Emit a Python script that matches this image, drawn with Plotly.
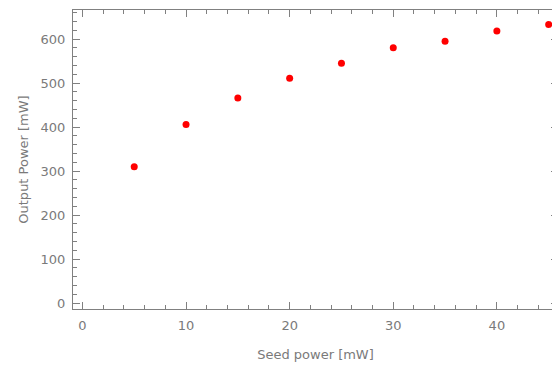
import plotly.graph_objects as go

seed_power = [5, 10, 15, 20, 25, 30, 35, 40, 45]
output_power = [310, 406, 466, 511, 545, 580, 595, 618, 633]

x_title = "Seed power [mW]"
y_title = "Output Power [mW]"

FONT = "DejaVu Sans, Verdana, sans-serif"
GRAY = "#7a7a7a"

fig = go.Figure()
fig.add_trace(go.Scatter(
    x=seed_power, y=output_power, mode="markers",
    marker=dict(color="#ff0000", size=7, symbol="circle"),
    cliponaxis=False, showlegend=False,
))

axis_common = dict(
    showgrid=False, zeroline=False,
    showline=True, linecolor="#808080", linewidth=1,
    mirror="ticks", ticks="inside", ticklen=7, tickcolor="#808080", tickwidth=1,
    tickfont=dict(family=FONT, size=13, color=GRAY),
)

fig.update_layout(
    width=558, height=365,
    margin=dict(l=73, r=0, t=10, b=56),
    paper_bgcolor="white", plot_bgcolor="white",
    font=dict(family=FONT, color=GRAY),
    xaxis=dict(
        range=[-0.91, 45.9], dtick=10, tick0=0,
        minor=dict(dtick=2, ticks="inside", ticklen=4, tickcolor="#808080"),
        title=dict(text=x_title, font=dict(size=13, color=GRAY), standoff=18),
        ticklabelstandoff=4,
        **axis_common,
    ),
    yaxis=dict(
        range=[-13.6, 666], dtick=100, tick0=0,
        minor=dict(dtick=20, ticks="inside", ticklen=4, tickcolor="#808080"),
        title=dict(text=y_title, font=dict(size=13, color=GRAY), standoff=9),
        ticklabelstandoff=4,
        **axis_common,
    ),
)

fig.write_html(
    "out.html",
    config={"displayModeBar": False},
    post_script="document.body.style.margin='0';document.body.style.overflow='hidden';"
                "document.documentElement.style.overflow='hidden';",
)
